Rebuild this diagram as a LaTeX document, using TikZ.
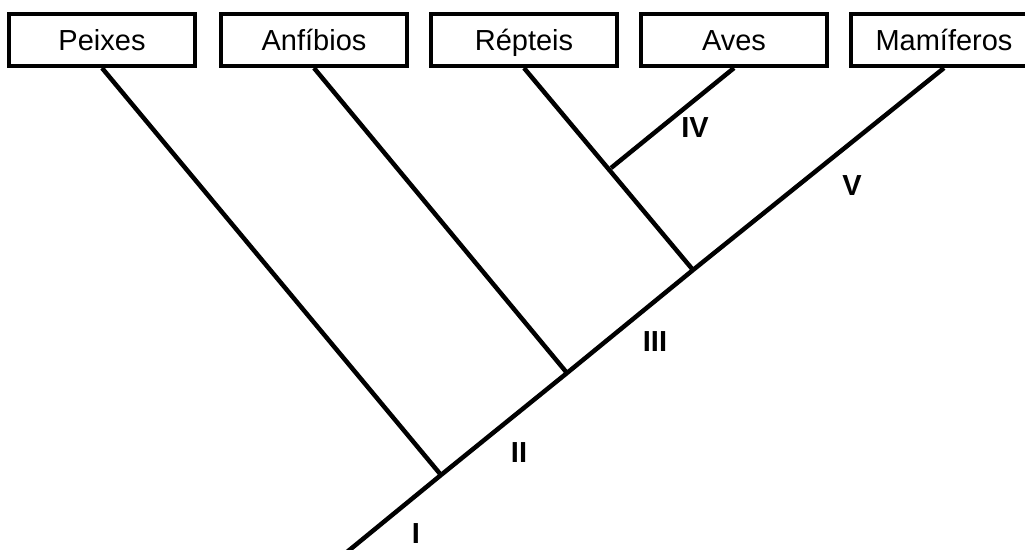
\documentclass[tikz,border=0pt]{standalone}
\usepackage{fontspec}
\setmainfont{Liberation Sans}
\begin{document}
\begin{tikzpicture}[x=1pt,y=-1pt,
  taxon/.style={draw,line width=4pt,minimum width=186pt,minimum height=52pt,inner sep=0pt,text height=20pt,text depth=0pt,font=\fontsize{29}{31}\selectfont},
  branch/.style={line width=4.5pt},
  clade/.style={font=\bfseries\fontsize{29}{31}\selectfont,inner sep=0pt}]
\clip (0,0) rectangle (1025,549);
\useasboundingbox (0,0) rectangle (1025,549);
\node[taxon] (pei) at (102,40) {Peixes};
\node[taxon] (anf) at (314,40) {Anfíbios};
\node[taxon] (rep) at (524,40) {Répteis};
\node[taxon] (ave) at (734,40) {Aves};
\node[taxon] (mam) at (944,40) {Mamíferos};
\coordinate (root) at (347,552);
\coordinate (j1) at (441,475);
\coordinate (j2) at (567,373);
\coordinate (j3) at (693,270);
\coordinate (j4) at (611,168);
\draw[branch] (root) -- (j1) -- (j2) -- (j3) -- (mam.south);
\draw[branch] (pei.south) -- (j1);
\draw[branch] (anf.south) -- (j2);
\draw[branch] (rep.south) -- (j3);
\draw[branch] (ave.south) -- (j4);
\node[clade] (l1) at (416,534) {I};
\node[clade] (l2) at (519,453) {II};
\node[clade] (l3) at (655,342) {III};
\node[clade] (l4) at (695,128) {IV};
\node[clade] (l5) at (852,186) {V};
\end{tikzpicture}
\end{document}
